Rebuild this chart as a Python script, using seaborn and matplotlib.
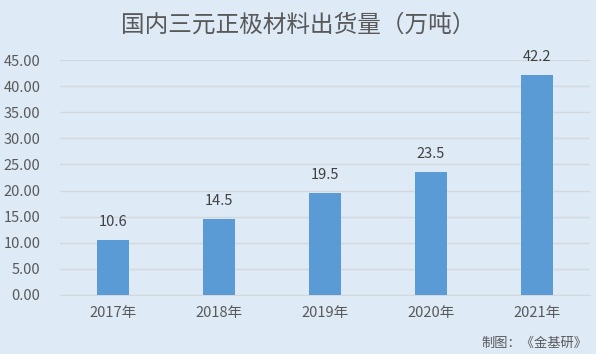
import matplotlib
matplotlib.use("Agg")
import matplotlib.pyplot as plt
import seaborn as sns
import pandas as pd

years = ["2017年", "2018年", "2019年", "2020年", "2021年"]
shipments = [10.6, 14.5, 19.5, 23.5, 42.2]
yticks = [0, 5, 10, 15, 20, 25, 30, 35, 40, 45]

sns.set_style("white")
plt.rcParams["font.family"] = ["Noto Sans CJK SC", "DejaVu Sans"]

bg = "#DEEAF6"
df = pd.DataFrame({"year": years, "value": shipments})

fig = plt.figure(figsize=(5.96, 3.54), dpi=100, facecolor=bg)
ax = fig.add_axes([60 / 596, 59 / 354, 530 / 596, 235 / 354])
ax.set_facecolor(bg)

sns.barplot(data=df, x="year", y="value", color="#5B9BD5", width=0.31,
            saturation=1, linewidth=0, ax=ax, zorder=3)

ax.set_ylim(0, 45)
ax.set_xlim(-0.5, 4.5)
ax.set_yticks(yticks)
ax.set_yticklabels([f"{v:.2f}" for v in yticks])
ax.grid(axis="y", color="#D4D8DC", linewidth=1, zorder=0)
for s in ["top", "right", "left"]:
    ax.spines[s].set_visible(False)
ax.spines["bottom"].set_color("#D4D8DC")
ax.tick_params(axis="both", length=0, labelsize=10.5, colors="#595959")
ax.tick_params(axis="x", pad=8)
ax.tick_params(axis="y", pad=14)
ax.set_xlabel("")
ax.set_ylabel("")

for i, v in enumerate(shipments):
    ax.annotate(f"{v}", (i, v), xytext=(0, 8), textcoords="offset points",
                ha="center", va="bottom", fontsize=10.5, color="#404040")

fig.text(0.5, 0.928, "国内三元正极材料出货量（万吨）", ha="center", va="center",
         fontsize=17, color="#595959")
fig.text(0.985, 0.03, "制图：《金基研》", ha="right", va="center",
         fontsize=9.5, color="#595959")

fig.savefig("out.png", dpi=100, facecolor=bg)
